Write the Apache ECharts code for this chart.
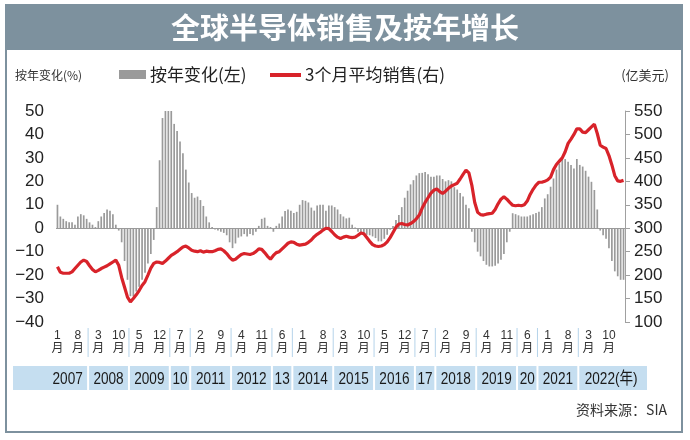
<!DOCTYPE html>
<html><head><meta charset="utf-8">
<script src="https://cdn.jsdelivr.net/npm/echarts@6/dist/echarts.min.js"></script>
<style>html,body{margin:0;padding:0;background:#fff}#c{width:690px;height:440px}</style>
</head><body><div id="c"></div>
<script>
// ---- data ----
const startYear = 2007, monthCount = 195; // Jan 2007 .. Mar 2023
const labelEvery = 7; // a month label every 7 months
const yoy2007 = [10, 5, 4, 3, 2.5, 2.5, 1.5, 5, 6, 5.5, 4, 2.5];
const yoy2008 = [1.5, 0.5, 3, 5, 6.5, 8, 7.5, 6, 1.5, -1, -6, -14];
const yoy2009 = [-22, -29, -29, -27, -25, -22, -19, -15, -11, -5, 9, 29];
const yoy2010 = [47, 50, 50, 50, 44.5, 41.5, 37, 32, 25, 19.5, 15, 13];
const yoy2011 = [13.5, 12, 9.5, 5, 2.5, 0.5, -0.5, -1, -1.5, -2, -3, -6];
const yoy2012 = [-8.5, -6.5, -4, -3.5, -2.5, -3.5, -2.5, -3, -1.5, 1, 4, 4.5];
const yoy2013 = [1, 0.5, -1.5, 1, 2, 5, 7.3, 8, 7.5, 6.5, 7, 10];
const yoy2014 = [12, 11.7, 11, 8.8, 7.5, 9.7, 10, 10, 7.5, 9.7, 9.7, 9];
const yoy2015 = [8, 6, 5, 4.2, 4.5, 1.5, 0.3, -1.5, -1.7, -2, -2.8, -3];
const yoy2016 = [-3.5, -4.2, -5.6, -5.6, -4.5, -2.8, -0.7, 1, 3.5, 5.6, 9, 13];
const yoy2017 = [16, 18.7, 20.5, 22.5, 23.5, 23.6, 24, 23, 22, 22, 22.5, 22.5];
const yoy2018 = [21, 20, 20.5, 20, 17.5, 16.5, 15, 13.5, 10, 8.5, -1.5, -6];
const yoy2019 = [-10, -12, -14, -15.6, -16.3, -16.3, -16, -15, -13.5, -11, -6, -1.5];
const yoy2020 = [6.4, 6, 5.5, 5, 5, 5, 5.5, 6, 6.5, 7, 9, 12.7];
const yoy2021 = [14.5, 17.7, 21.2, 25, 27.6, 29.7, 29.5, 28.3, 27, 25.5, 29.5, 27];
const yoy2022 = [26.3, 24.5, 22, 19.8, 16.3, 8, -1, -3, -4.5, -8.5, -14, -18.4];
const yoy2023 = [-20.5, -22, -22];

const sales2007 = [218, 206, 204, 204, 204, 207, 214, 221, 228, 232, 229, 220];
const sales2008 = [212, 207, 210, 214, 217, 220, 224, 228, 232, 221, 195, 174];
const sales2009 = [153, 143, 150, 158, 167, 178, 186, 200, 215, 225, 228, 227];
const sales2010 = [225, 230, 236, 242, 246, 250, 255, 260, 262, 258, 253, 251];
const sales2011 = [250, 252, 249, 251, 250, 250, 252, 255, 256, 252, 246, 238];
const sales2012 = [232, 234, 239, 244, 246, 245, 244, 246, 250, 256, 255, 248];
const sales2013 = [240, 234, 242, 248, 250, 256, 262, 268, 271, 270, 266, 264];
const sales2014 = [265, 266, 270, 275, 282, 287, 291, 296, 300, 299, 293, 286];
const sales2015 = [281, 278, 281, 283, 281, 280, 281, 285, 290, 288, 280, 272];
const sales2016 = [265, 262, 261, 262, 265, 271, 280, 291, 302, 309, 310, 308];
const sales2017 = [307, 310, 314, 320, 328, 343, 355, 365, 375, 381, 384, 378];
const sales2018 = [374, 379, 385, 390, 393, 396, 405, 415, 424, 418, 392, 355];
const sales2019 = [334, 329, 328, 330, 331, 332, 340, 352, 362, 367, 362, 355];
const sales2020 = [349, 348, 349, 348, 350, 358, 372, 383, 392, 398, 398, 400];
const sales2021 = [403, 409, 425, 436, 443, 450, 463, 481, 490, 500, 512, 512];
const sales2022 = [505, 504, 510, 516, 522, 502, 477, 473, 470, 455, 435, 412];
const sales2023 = [401, 400, 402];

const yearLabels = ['2007','2008','2009','10','2011','2012','13','2014','2015','2016','17','2018','2019','20','2021','2022(年)'];
const leftTicks = {min: -40, max: 50, step: 10};
const rightTicks = {min: 100, max: 550, step: 50};

const titleText = '全球半导体销售及按年增长';
const barName = '按年变化(左)';
const lineName = '3个月平均销售(右)';
const leftUnit = '按年变化(%)';
const rightUnit = '(亿美元)';
const sourceText = '资料来源：SIA';

// ---- build ----
const yoy = [].concat(yoy2007,yoy2008,yoy2009,yoy2010,yoy2011,yoy2012,yoy2013,yoy2014,yoy2015,yoy2016,yoy2017,yoy2018,yoy2019,yoy2020,yoy2021,yoy2022,yoy2023);
const sales = [].concat(sales2007,sales2008,sales2009,sales2010,sales2011,sales2012,sales2013,sales2014,sales2015,sales2016,sales2017,sales2018,sales2019,sales2020,sales2021,sales2022,sales2023);
const cats = [];
for (let i = 0; i < monthCount; i++) cats.push((startYear + Math.floor(i/12)) + '-' + (i%12 + 1));

const FONT = "'Liberation Sans', Arial, 'Noto Sans CJK SC', sans-serif";
const FRAME = '#7d919e';
const chart = echarts.init(document.getElementById('c'), null, {renderer: 'canvas'});
const gridL = 56, gridR = 625, gridT = 111, gridB = 322;

chart.setOption({
  backgroundColor: '#fff',
  animation: false,
  grid: {left: gridL, right: 690 - gridR, top: gridT, bottom: 440 - gridB, containLabel: false},
  xAxis: {
    type: 'category', data: cats, boundaryGap: true,
    axisLine: {show: false}, axisTick: {show: false}, splitLine: {show: false},
    axisLabel: {
      interval: (idx) => idx % labelEvery === 0,
      formatter: (v) => v.split('-')[1] + '\n月',
      fontFamily: FONT, fontSize: 12, lineHeight: 13, color: '#333', margin: 7
    }
  },
  yAxis: [
    {type: 'value', min: leftTicks.min, max: leftTicks.max, interval: leftTicks.step, position: 'left',
     axisLine: {show: false}, axisTick: {show: false}, splitLine: {show: false},
     axisLabel: {fontFamily: FONT, fontSize: 17, color: '#222', margin: 12,
       formatter: (v) => String(v).replace('-', '\u2212')}},
    {type: 'value', min: rightTicks.min, max: rightTicks.max, interval: rightTicks.step, position: 'right',
     axisLine: {show: true, lineStyle: {color: '#a0a0a0', width: 1}},
     axisTick: {show: true, inside: false, length: 5, lineStyle: {color: '#a0a0a0'}},
     splitLine: {show: false},
     axisLabel: {fontFamily: FONT, fontSize: 17, color: '#222', margin: 9}}
  ],
  series: [
    {name: barName, type: 'bar', yAxisIndex: 0, data: yoy, barWidth: 1.7,
     itemStyle: {color: '#9a9a9a'}, clip: true,
     markLine: {silent: true, symbol: 'none', label: {show: false},
       lineStyle: {color: '#9a9a9a', type: 'solid', width: 1}, data: [{yAxis: 0}]}},
    {name: lineName, type: 'line', yAxisIndex: 1, data: sales, symbol: 'none', smooth: false,
     lineStyle: {color: '#d8232a', width: 3.2}, z: 5}
  ]
});

// ---- decorations placed via axis coordinates ----
const px = (i) => chart.convertToPixel({xAxisIndex: 0}, cats[i]);
const g = [];
g.push({type: 'rect', z: 0, shape: {x: 6, y: 5, width: 676, height: 427}, style: {fill: '#fff', stroke: FRAME, lineWidth: 2}});
g.push({type: 'rect', z: 1, shape: {x: 5, y: 5, width: 678, height: 45}, style: {fill: FRAME}});
g.push({type: 'text', z: 2, x: 345, y: 28, style: {text: titleText, fill: '#fff', font: "bold 29px 'Noto Sans CJK SC', sans-serif", align: 'center', verticalAlign: 'middle'}});
g.push({type: 'text', z: 2, x: 15, y: 75, style: {text: leftUnit, fill: '#333', font: "12px 'Noto Sans CJK SC', sans-serif", align: 'left', verticalAlign: 'middle'}});
g.push({type: 'text', z: 2, x: 669, y: 75, style: {text: rightUnit, fill: '#333', font: "13px 'Noto Sans CJK SC', sans-serif", align: 'right', verticalAlign: 'middle'}});
// legend
g.push({type: 'rect', z: 2, shape: {x: 119, y: 70, width: 27, height: 9}, style: {fill: '#9a9a9a'}});
g.push({type: 'text', z: 2, x: 150, y: 75, style: {text: barName, fill: '#222', font: "17px 'Noto Sans CJK SC', sans-serif", align: 'left', verticalAlign: 'middle'}});
g.push({type: 'rect', z: 2, shape: {x: 270, y: 73, width: 31, height: 4}, style: {fill: '#d8232a'}});
g.push({type: 'text', z: 2, x: 305, y: 75, style: {text: lineName, fill: '#222', font: "17px 'Noto Sans CJK SC', sans-serif", align: 'left', verticalAlign: 'middle'}});
// year band: separators sit midway between the month labels on either side of each new year
const bandY = 366, bandH = 24;
g.push({type: 'rect', z: 1, shape: {x: 13, y: bandY, width: 634, height: bandH}, style: {fill: '#c5def0'}});
const lastLabel = Math.floor((monthCount - 1) / labelEvery) * labelEvery;
for (let k = 0; k < yearLabels.length; k++) {
  const y0 = 12 * k, y1 = Math.min(12 * k + 11, monthCount - 1);
  if (k > 0) {
    const before = Math.floor((y0 - 1) / labelEvery) * labelEvery;
    const after = Math.ceil(y0 / labelEvery) * labelEvery;
    const bx = (px(before) + px(after)) / 2;
    g.push({type: 'rect', z: 2, shape: {x: bx - 1, y: bandY, width: 2, height: bandH}, style: {fill: '#fff'}});
    g.push({type: 'rect', z: 2, shape: {x: bx - 0.5, y: 328, width: 1, height: 29}, style: {fill: '#b5d3ea'}});
  }
  const labs = [];
  for (let i = Math.ceil(y0 / labelEvery) * labelEvery; i <= Math.min(y1, lastLabel); i += labelEvery) labs.push(px(i));
  const mid = labs.reduce((a, b) => a + b, 0) / labs.length;
  const last = k === yearLabels.length - 1;
  g.push({type: 'text', z: 3, x: last ? mid - 14 : mid, y: bandY + bandH/2 + 1, scaleX: 0.8,
    style: {text: yearLabels[k], fill: '#1a1a1a', font: "17px 'Liberation Sans', 'Noto Sans CJK SC', sans-serif",
      align: last ? 'left' : 'center', verticalAlign: 'middle'}});
}
g.push({type: 'text', z: 2, x: 667, y: 410, style: {text: sourceText, fill: '#333', font: "14px 'Noto Sans CJK SC', serif", align: 'right', verticalAlign: 'middle'}});
chart.setOption({graphic: g});
</script></body></html>
